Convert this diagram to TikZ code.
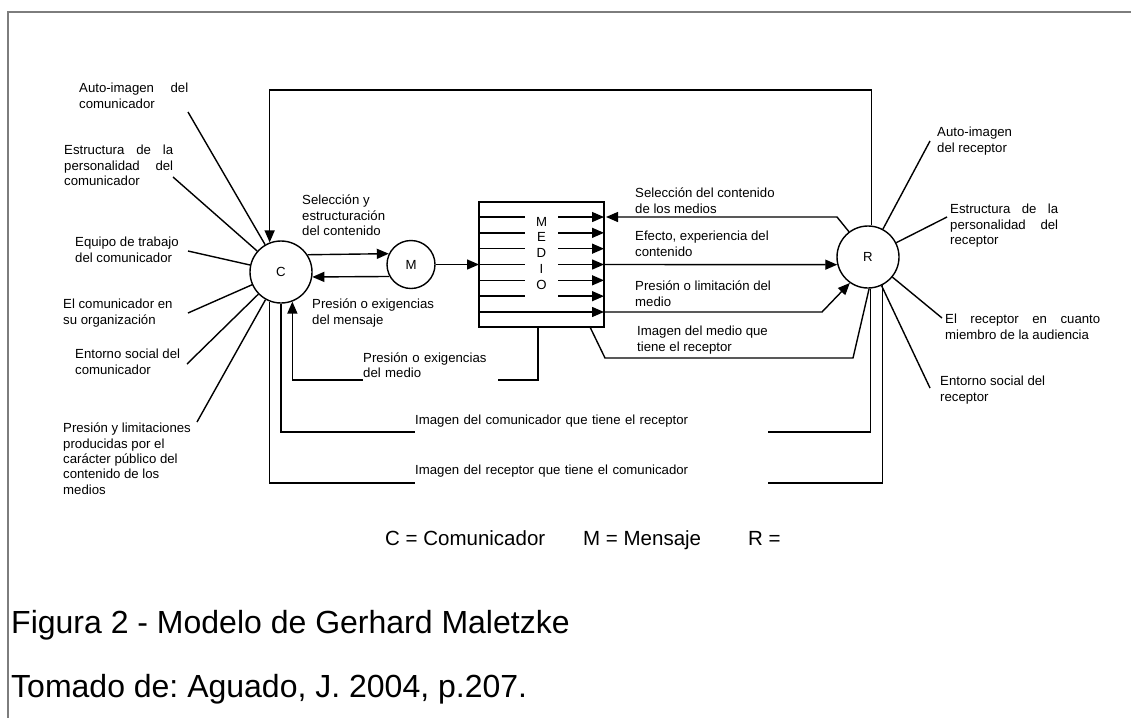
\documentclass[tikz,border=0pt]{standalone}
\usepackage{fontspec}
\setmainfont{Liberation Sans}
\usetikzlibrary{arrows.meta,calc}
\frenchspacing
\newcommand\lbfont{\fontsize{13.2}{15.3}\selectfont}
\newcommand\lgfont{\fontsize{20.5}{24}\selectfont}
\newcommand\capfont{\fontsize{32}{36}\selectfont}
\newcommand\jline[2]{\makebox[#1][s]{#2}}
\definecolor{framegray}{RGB}{125,125,125}
\begin{document}
\begin{tikzpicture}[x=1pt,y=-1pt,
  line/.style={line width=1.4pt, draw=black},
  arr/.style={line, -{Triangle[length=12pt,width=10pt]}},
  circ/.style={circle, draw, line width=1.4pt, inner sep=0pt, font=\lbfont},
  lbl/.style={font=\lbfont, inner sep=0pt, anchor=north west, align=left,
              execute at begin node=\strut},
  gaplbl/.style={font=\lbfont, fill=white, inner sep=0pt, anchor=base west,
              align=left, text width=353pt},
  legend/.style={font=\lgfont, inner sep=0pt, anchor=base west},
  caption/.style={font=\capfont, inner sep=0pt, anchor=base west}]

\useasboundingbox (0,0) rectangle (1131,718);

% page frame
\draw[framegray, line width=1.5pt] (1131,12) -- (8,12) -- (8,718);

% main elements
\node[circ, minimum size=62pt] (C) at (281,272) {C};
\node[circ, minimum size=48pt] (M) at (411,264.5) {M};
\node[circ, minimum size=62pt] (R) at (868,257) {R};
\node[draw, line width=1.4pt, minimum width=125pt, minimum height=125pt,
      inner sep=0pt, outer sep=0pt, anchor=north west] (box) at (479,202) {};

% channels inside the medium box
\foreach \k in {1,...,7} {
  \pgfmathsetmacro\yy{264.5+(\k-4)*15.83}
  \coordinate (bl\k) at (479,\yy);
  \coordinate (gl\k) at (525,\yy);
  \coordinate (gr\k) at (558,\yy);
  \coordinate (br\k) at (604,\yy);
}
\foreach \k in {1,...,6} {
  \draw[line] (bl\k) -- (gl\k);
  \draw[arr] (gr\k) -- (br\k);
}
\draw[arr] (bl7) -- (br7);
\foreach \k/\t in {1/M,2/E,3/D,4/I,5/O} {
  \node[font=\lbfont, inner sep=0pt] (medio\k) at ($(gl\k)!0.5!(gr\k)+(0,4.5)$) {\t};
}

% communicator <-> message <-> medium
\draw[arr] (C.33) -- (M.154);
\draw[arr] (M.209) -- (C.-9);
\draw[arr] (M) -- (box.west);

% medium <-> receiver
\coordinate (sel) at (606,217);
\draw[arr] (R.127) -- (837,217) -- (sel);
\draw[arr] (br4) -- (R.194);
\draw[arr] (br7) -- (822,312.0) -- (R.235);
\coordinate (bb) at (590,327);
\draw[line] (bb) -- (605,358) -- (853,358) -- (R.-88);

% pressure of the medium back to the communicator
\coordinate (bm) at (538,327);
\draw[arr] (bm) -- (538,380) -| (C.-69);

% feedback loops
\draw[arr] (R.84) -- (R.84 |- 0,90) -| (C.111);
\draw[line] (C.south) -- (C.south |- 0,432) -| (R.-86);
\draw[line] (C.-111) -- (C.-111 |- 0,483) -| (R.-63);

% influences on the communicator
\coordinate (s1) at (188,112);
\coordinate (s2) at (173,177);
\coordinate (s3) at (188,251);
\coordinate (s4) at (188,313);
\coordinate (s5) at (187,364);
\coordinate (s6) at (197,422);
\foreach \s in {s1,s2,s3,s4,s5,s6} \draw[line] (\s) -- (C);

% influences on the receiver
\coordinate (r1) at (930,141);
\coordinate (r2) at (947,217);
\coordinate (r3) at (942,318);
\coordinate (r4) at (930,388);
\foreach \s in {r1,r2,r3,r4} \draw[line] (\s) -- (R);

% labels around the communicator
\node[lbl] (tC1) at (79,83) {\jline{109pt}{Auto-imagen del}\\comunicador};
\node[lbl] (tC2) at (64,145) {\jline{109pt}{Estructura de la}\\\jline{109pt}{personalidad del}\\comunicador};
\node[lbl] (tC3) at (75,237) {Equipo de trabajo\\del comunicador};
\node[lbl] (tC4) at (63,299) {El comunicador en\\su organización};
\node[lbl] (tC5) at (75,349) {Entorno social del\\comunicador};
\node[lbl] (tC6) at (63,423) {Presión y limitaciones\\producidas por el\\carácter público del\\contenido de los\\medios};

% labels of the message flows
\node[lbl] (tM1) at (302,195) {Selección y\\estructuración\\del contenido};
\node[lbl] (tM2) at (312,299) {Presión o exigencias\\del mensaje};
\node[lbl, fill=white, inner ysep=2pt, text width=135pt,
      execute at end node=\strut] (tM3) at (363,349.5) {Presión o exigencias\\del medio};

% labels of the medium flows
\node[lbl] (tR1) at (635,188) {Selección del contenido\\de los medios};
\node[lbl] (tR2) at (635,231) {Efecto, experiencia del\\contenido};
\node[lbl] (tR3) at (635,281) {Presión o limitación del\\medio};
\node[lbl] (tR4) at (637,326) {Imagen del medio que\\tiene el receptor};

% labels around the receiver
\node[lbl] (tE1) at (937,127) {Auto-imagen\\del receptor};
\node[lbl] (tE2) at (950,204) {\jline{108pt}{Estructura de la}\\\jline{108pt}{personalidad del}\\receptor};
\node[lbl] (tE3) at (945,314) {\jline{155pt}{El receptor en cuanto}\\miembro de la audiencia};
\node[lbl] (tE4) at (940,376) {Entorno social del\\receptor};

% labels of the feedback loops
\node[gaplbl, text depth=9.5pt] (tL1) at (415,424) {Imagen del comunicador que tiene el receptor};
\node[gaplbl, text depth=10pt] (tL2) at (415,474) {Imagen del receptor que tiene el comunicador};

% legend
\node[legend] (lgC) at (385,545) {C = Comunicador};
\node[legend] (lgM) at (583,545) {M = Mensaje};
\node[legend] (lgR) at (748,545) {R =};

% caption
\node[caption] (cap1) at (11,633) {Figura 2 - Modelo de Gerhard Maletzke};
\node[caption] (cap2) at (11,697) {Tomado de: Aguado, J. 2004, p.207.};
\end{tikzpicture}
\end{document}
